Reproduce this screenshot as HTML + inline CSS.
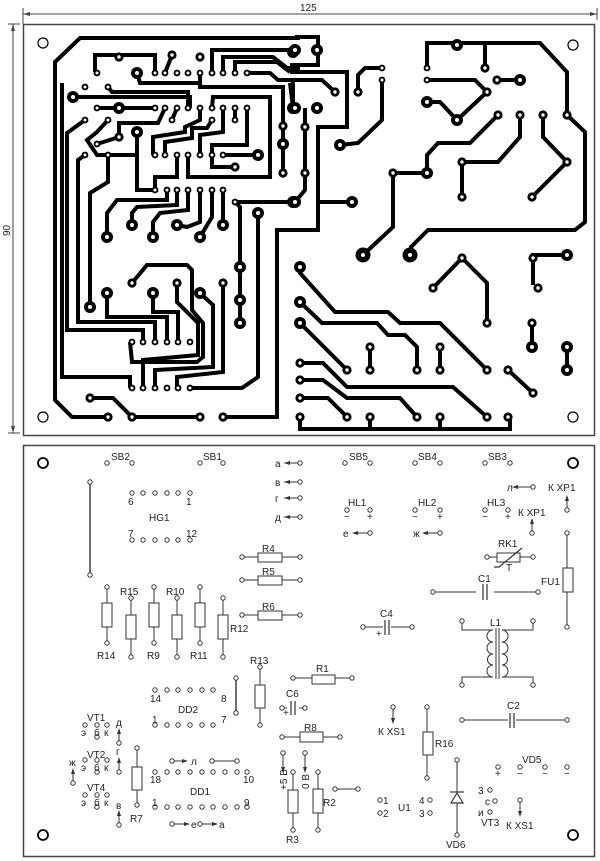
<!DOCTYPE html>
<html><head><meta charset="utf-8"><style>
html,body{margin:0;padding:0;background:#fff;}
svg{display:block;}
text{font-family:"Liberation Sans",sans-serif;font-size:10px;fill:#222;}
</style></head><body>
<svg width="600" height="861" viewBox="0 0 600 861" xmlns="http://www.w3.org/2000/svg">
<defs>
<g id="B"><circle r="6" fill="#000"/><circle r="2" fill="#fff"/></g>
<g id="M"><circle r="4.6" fill="#000"/><circle r="1.7" fill="#fff"/></g>
<g id="S"><circle r="3.4" fill="#000"/><circle r="1.5" fill="#fff"/></g>
<g id="p"><circle r="2.2" fill="#fff" stroke="#333" stroke-width="1"/></g>
</defs>
<g stroke="#444" stroke-width="1" fill="none">
<line x1="23" y1="14" x2="597" y2="14"/><line x1="23" y1="8" x2="23" y2="24"/><line x1="597" y1="8" x2="597" y2="20"/>
<line x1="13" y1="24" x2="13" y2="433"/><line x1="8" y1="24" x2="20" y2="24"/><line x1="8" y1="433" x2="20" y2="433"/>
</g>
<polygon points="23,14 30,12 30,16" fill="#444"/><polygon points="597,14 590,12 590,16" fill="#444"/>
<polygon points="13,24 11,31 15,31" fill="#444"/><polygon points="13,433 11,426 15,426" fill="#444"/>
<text x="300" y="11" font-size="10">125</text>
<text x="0" y="0" transform="translate(10,236) rotate(-90)">90</text>
<rect x="23.5" y="24.5" width="571" height="411" fill="none" stroke="#444" stroke-width="1.5"/>
<rect x="23.5" y="445.5" width="571" height="411" fill="none" stroke="#444" stroke-width="1.5"/>
<g stroke="#000" stroke-width="4" fill="none" stroke-linejoin="miter">
<polyline points="300,38 80,38 55,62 55,400 72,417 108,417"/>
<polyline points="95,72 95,55 155,55 155,73"/>
<polyline points="172,55 165,73"/>
<polyline points="212,73 212,50 293,50"/>
<polyline points="223,73 223,57 273,57 287,68 300,68"/>
<polyline points="235,73 235,62 277,62 290,72"/>
<polyline points="247,73 270,73 278,80 293,80 293,108"/>
<polyline points="137,73 140,83 200,83"/>
<polyline points="200,73 200,87 283,87 283,173"/>
<polyline points="108,87 112,92 188,92 188,108"/>
<polyline points="73,97 190,97 190,108"/>
<polyline points="62,83 62,377 130,377 130,388"/>
<polyline points="85,120 67,133 67,330 143,330 143,342"/>
<polyline points="85,155 78,160 78,322 155,322 155,342"/>
<polyline points="97,108 155,108"/>
<polyline points="108,120 97,132 87,140 97,155 137,155"/>
<polyline points="137,132 137,190 155,190"/>
<polyline points="108,155 108,182 90,193 90,307"/>
<polyline points="97,144 119,137 119,123 158,123 165,108"/>
<polyline points="177,108 172,120"/>
<polyline points="200,108 200,120 185,127 185,132 153,137 153,155"/>
<polyline points="212,120 207,128 192,128 192,138 165,142 165,155"/>
<polyline points="223,108 223,132 200,135 200,155"/>
<polyline points="235,108 235,120"/>
<polyline points="247,108 247,145 212,145 212,155"/>
<polyline points="223,155 258,155"/>
<polyline points="212,155 212,167 235,167"/>
<polyline points="177,155 177,177 155,177 155,190"/>
<polyline points="188,155 188,177 270,177 270,97 213,97 212,108"/>
<polyline points="167,190 167,200 117,200 107,213 107,237"/>
<polyline points="177,190 177,205 137,207 132,213 132,225"/>
<polyline points="188,190 188,210 160,213 153,222 153,237"/>
<polyline points="200,190 200,222 187,227 177,225"/>
<polyline points="212,190 212,217 200,237"/>
<polyline points="223,190 223,225"/>
<polyline points="235,202 300,202"/>
<polyline points="235,202 240,207 240,323"/>
<polyline points="258,213 258,377 242,388 190,388"/>
<polyline points="300,230 277,230 277,417 223,417"/>
<polyline points="132,283 147,265 187,265 192,270 192,310 203,323 203,357 197,362 132,362 130,342"/>
<polyline points="107,293 107,317 167,317 167,342"/>
<polyline points="153,293 153,312 178,312 178,342"/>
<polyline points="177,283 177,302 198,323 198,355 143,360 143,388"/>
<polyline points="200,293 213,305 213,367 155,370 155,388"/>
<polyline points="223,283 223,372 177,377 177,388"/>
<polyline points="90,398 113,398 132,417 200,417"/>
<polyline points="295,37 318,37 318,65 290,65"/>
<polyline points="290,72 347,72 347,127 318,127 318,230 290,230"/>
<polyline points="290,80 322,80 335,92"/>
<polyline points="382,68 365,68 358,75 358,92"/>
<polyline points="382,80 382,120 358,143 340,145"/>
<polyline points="305,108 305,190 295,202"/>
<polyline points="318,202 352,202"/>
<polyline points="290,83 293,108"/>
<polyline points="427,68 427,43 540,43 567,72 567,115 585,132 585,222 575,230 428,230 410,248"/>
<polyline points="485,43 485,68"/>
<polyline points="427,80 475,80 487,92"/>
<polyline points="427,102 440,102 457,120 487,92"/>
<polyline points="497,80 520,80"/>
<polyline points="498,115 470,143 438,143 427,155 427,173 393,173 393,227 363,255"/>
<polyline points="520,115 520,137 498,162 462,162 462,197"/>
<polyline points="543,115 543,137 567,162 532,197"/>
<polyline points="462,258 433,288"/>
<polyline points="462,258 487,283 487,323"/>
<polyline points="533,285 533,255 567,255"/>
<polyline points="532,323 532,347"/>
<polyline points="567,347 567,370"/>
<polyline points="370,347 370,370"/>
<polyline points="440,347 440,370"/>
<polyline points="300,267 300,273 335,312 388,312 400,323 440,323 487,370"/>
<polyline points="300,302 322,323 377,323 388,335 405,335 417,347 417,370"/>
<polyline points="300,323 347,370"/>
<polyline points="300,363 323,363 347,387 453,387 487,417"/>
<polyline points="300,380 323,380 347,398 400,398 417,417"/>
<polyline points="300,398 328,398 347,417"/>
<polyline points="508,370 533,393"/>
<polyline points="300,417 300,429 510,429 510,417"/>
<polyline points="370,417 370,429"/><polyline points="440,417 440,429"/>
</g>
<g>
<use href="#M" x="119" y="57"/><use href="#M" x="172" y="55"/><use href="#M" x="200" y="57"/><use href="#B" x="293" y="52"/>
<use href="#S" x="97" y="73"/><use href="#B" x="137" y="73"/>
<use href="#S" x="155" y="73"/><use href="#S" x="165" y="73"/><use href="#S" x="177" y="73"/><use href="#S" x="188" y="73"/><use href="#S" x="200" y="73"/><use href="#S" x="212" y="73"/><use href="#S" x="223" y="73"/><use href="#S" x="235" y="73"/><use href="#S" x="247" y="73"/>
<use href="#S" x="85" y="87"/><use href="#S" x="108" y="87"/><use href="#B" x="73" y="97"/>
<use href="#S" x="97" y="108"/><use href="#B" x="119" y="108"/>
<use href="#S" x="155" y="108"/><use href="#S" x="165" y="108"/><use href="#S" x="177" y="108"/><use href="#S" x="188" y="108"/><use href="#S" x="200" y="108"/><use href="#S" x="212" y="108"/><use href="#S" x="223" y="108"/><use href="#S" x="235" y="108"/><use href="#S" x="247" y="108"/>
<use href="#B" x="293" y="108"/>
<use href="#S" x="172" y="120"/><use href="#S" x="212" y="120"/><use href="#S" x="235" y="120"/>
<use href="#S" x="85" y="120"/><use href="#S" x="108" y="120"/>
<use href="#B" x="137" y="132"/><use href="#M" x="119" y="137"/><use href="#S" x="97" y="144"/>
<use href="#M" x="283" y="126"/><use href="#B" x="283" y="144"/><use href="#M" x="283" y="173"/>
<use href="#S" x="155" y="155"/><use href="#S" x="165" y="155"/><use href="#S" x="177" y="155"/><use href="#S" x="188" y="155"/><use href="#S" x="200" y="155"/><use href="#S" x="212" y="155"/><use href="#S" x="223" y="155"/>
<use href="#B" x="258" y="155"/><use href="#M" x="235" y="167"/>
<use href="#S" x="85" y="155"/><use href="#S" x="108" y="155"/>
<use href="#S" x="155" y="190"/><use href="#S" x="167" y="190"/><use href="#S" x="177" y="190"/><use href="#S" x="188" y="190"/><use href="#S" x="200" y="190"/><use href="#S" x="212" y="190"/><use href="#S" x="223" y="190"/>
<use href="#S" x="235" y="202"/><use href="#B" x="293" y="202"/><use href="#B" x="258" y="213"/>
<use href="#B" x="107" y="237"/><use href="#B" x="132" y="225"/><use href="#B" x="153" y="237"/><use href="#B" x="177" y="225"/><use href="#B" x="200" y="237"/><use href="#B" x="223" y="225"/>
<use href="#B" x="240" y="267"/><use href="#B" x="240" y="300"/><use href="#B" x="240" y="323"/>
<use href="#M" x="132" y="283"/><use href="#M" x="177" y="283"/><use href="#M" x="223" y="283"/>
<use href="#B" x="107" y="293"/><use href="#B" x="153" y="293"/><use href="#B" x="200" y="293"/><use href="#B" x="90" y="307"/>
<use href="#S" x="132" y="342"/><use href="#S" x="143" y="342"/><use href="#S" x="155" y="342"/><use href="#S" x="167" y="342"/><use href="#S" x="178" y="342"/><use href="#S" x="190" y="342"/>
<use href="#S" x="132" y="388"/><use href="#S" x="143" y="388"/><use href="#S" x="155" y="388"/><use href="#S" x="167" y="388"/><use href="#S" x="178" y="388"/><use href="#S" x="190" y="388"/>
<use href="#M" x="90" y="398"/><use href="#M" x="108" y="417"/><use href="#M" x="132" y="417"/><use href="#M" x="200" y="417"/><use href="#M" x="223" y="417"/>
<use href="#B" x="295" y="50"/><use href="#B" x="317" y="50"/>
<use href="#M" x="335" y="92"/><use href="#M" x="358" y="92"/><use href="#S" x="382" y="68"/><use href="#S" x="382" y="80"/>
<use href="#B" x="295" y="108"/><use href="#B" x="317" y="108"/>
<use href="#M" x="305" y="127"/><use href="#M" x="305" y="173"/><use href="#B" x="295" y="202"/><use href="#B" x="352" y="202"/><use href="#B" x="340" y="145"/>
<use href="#S" x="427" y="68"/><use href="#S" x="427" y="80"/><use href="#B" x="457" y="45"/><use href="#M" x="485" y="68"/><use href="#M" x="497" y="80"/><use href="#B" x="520" y="80"/><use href="#M" x="487" y="92"/><use href="#B" x="427" y="102"/><use href="#B" x="457" y="120"/>
<use href="#M" x="498" y="115"/><use href="#M" x="520" y="115"/><use href="#M" x="543" y="115"/><use href="#M" x="567" y="115"/>
<use href="#M" x="393" y="173"/><use href="#B" x="427" y="173"/><use href="#M" x="462" y="162"/><use href="#M" x="567" y="162"/><use href="#M" x="462" y="197"/><use href="#M" x="532" y="197"/>
<circle cx="363" cy="255" r="7.5"/><circle cx="363" cy="255" r="2" fill="#fff"/>
<circle cx="410" cy="255" r="7.5"/><circle cx="410" cy="255" r="2" fill="#fff"/>
<use href="#B" x="567" y="255"/><use href="#M" x="533" y="258"/><use href="#M" x="538" y="288"/><use href="#M" x="462" y="258"/><use href="#M" x="433" y="288"/><use href="#M" x="487" y="323"/>
<use href="#B" x="300" y="267"/><use href="#B" x="300" y="302"/><use href="#B" x="300" y="323"/><use href="#M" x="300" y="363"/><use href="#M" x="300" y="380"/><use href="#M" x="300" y="398"/><use href="#M" x="300" y="417"/>
<use href="#M" x="370" y="347"/><use href="#M" x="370" y="370"/><use href="#M" x="440" y="347"/><use href="#M" x="440" y="370"/>
<use href="#M" x="532" y="323"/><use href="#B" x="532" y="347"/><use href="#B" x="567" y="347"/><use href="#B" x="567" y="370"/>
<use href="#M" x="347" y="370"/><use href="#M" x="417" y="370"/><use href="#M" x="487" y="370"/><use href="#M" x="508" y="370"/><use href="#M" x="533" y="393"/>
<use href="#M" x="347" y="417"/><use href="#M" x="370" y="417"/><use href="#M" x="417" y="417"/><use href="#M" x="440" y="417"/><use href="#M" x="487" y="417"/><use href="#M" x="508" y="417"/>
</g>
<g fill="none" stroke="#000" stroke-width="1.2">
<circle cx="43" cy="43" r="5"/><circle cx="43" cy="417" r="5"/><circle cx="573" cy="45" r="5"/><circle cx="573" cy="417" r="5"/>
<circle cx="43" cy="463" r="5" stroke-width="1.8"/><circle cx="43" cy="835" r="5" stroke-width="1.8"/><circle cx="573" cy="463" r="5" stroke-width="1.8"/><circle cx="573" cy="835" r="5" stroke-width="1.8"/>
</g>
<g stroke="#333" stroke-width="1" fill="none">
<line x1="90" y1="482" x2="90" y2="575" stroke-width="1.4"/>
<line x1="284" y1="463" x2="300" y2="463"/><line x1="284" y1="482" x2="300" y2="482"/><line x1="284" y1="498" x2="300" y2="498"/><line x1="284" y1="517" x2="300" y2="517"/>
<line x1="242" y1="557" x2="300" y2="557"/><line x1="242" y1="580" x2="300" y2="580"/><line x1="242" y1="615" x2="300" y2="615"/>
<line x1="107" y1="587" x2="107" y2="643"/><line x1="154" y1="587" x2="154" y2="643"/><line x1="200" y1="587" x2="200" y2="643"/>
<line x1="131" y1="598" x2="131" y2="657"/><line x1="177" y1="598" x2="177" y2="657"/><line x1="223" y1="598" x2="223" y2="657"/>
<line x1="260" y1="667" x2="260" y2="725"/><line x1="236" y1="678" x2="236" y2="713" stroke-width="1.4"/>
<line x1="137" y1="748" x2="137" y2="805"/>
<line x1="212" y1="761" x2="237" y2="761"/><line x1="172" y1="761" x2="185" y2="761"/>
<line x1="172" y1="824" x2="188" y2="824"/><line x1="200" y1="824" x2="215" y2="824"/>
<line x1="119" y1="743" x2="119" y2="730"/><line x1="119" y1="772" x2="119" y2="759"/><line x1="73" y1="783" x2="73" y2="770"/><line x1="119" y1="825" x2="119" y2="812"/>
<line x1="293" y1="772" x2="293" y2="830"/><line x1="318" y1="772" x2="318" y2="830"/>
<line x1="283" y1="753" x2="283" y2="770"/><line x1="305" y1="753" x2="305" y2="770"/>
<line x1="293" y1="678" x2="352" y2="678"/>
<line x1="282" y1="708" x2="305" y2="708"/>
<line x1="282" y1="737" x2="340" y2="737"/>
<line x1="335" y1="789" x2="358" y2="789"/>
<line x1="358" y1="533" x2="370" y2="533"/><line x1="428" y1="533" x2="440" y2="533"/><line x1="518" y1="487" x2="533" y2="487"/>
<line x1="567" y1="510" x2="567" y2="497"/><line x1="532" y1="533" x2="532" y2="520"/>
<line x1="487" y1="557" x2="533" y2="557"/>
<line x1="567" y1="533" x2="567" y2="627"/>
<line x1="433" y1="592" x2="538" y2="592"/>
<line x1="363" y1="627" x2="412" y2="627"/>
<line x1="462" y1="720" x2="567" y2="720"/>
<line x1="393" y1="707" x2="393" y2="722"/>
<line x1="427" y1="707" x2="427" y2="778"/>
<line x1="457" y1="760" x2="457" y2="835"/>
<line x1="520" y1="800" x2="520" y2="815"/>
<polyline points="462,621 462,630 493,630"/><polyline points="533,621 533,630 502,630"/>
<polyline points="462,685 462,677 493,677"/><polyline points="533,685 533,677 502,677"/>
<path d="M493,630 a4,4 0 0 0 0,12 a4,4 0 0 0 0,12 a4,4 0 0 0 0,11 a4,4 0 0 0 0,12"/>
<path d="M502,630 a4,4 0 0 1 0,12 a4,4 0 0 1 0,12 a4,4 0 0 1 0,11 a4,4 0 0 1 0,12"/>
<line x1="496" y1="628" x2="496" y2="679"/><line x1="499" y1="628" x2="499" y2="679"/>
</g>
<g fill="#333">
<polygon points="284,463 290,461 290,465"/><polygon points="284,482 290,480 290,484"/><polygon points="284,498 290,496 290,500"/><polygon points="284,517 290,515 290,519"/>
<polygon points="119,728 117,734 121,734"/><polygon points="119,757 117,763 121,763"/><polygon points="73,768 71,774 75,774"/><polygon points="119,810 117,816 121,816"/>
<polygon points="188,761 182,759 182,763"/><polygon points="190,824 184,822 184,826"/><polygon points="218,824 212,822 212,826"/>
<polygon points="283,773 281,767 285,767"/><polygon points="305,773 303,767 307,767"/>
<polygon points="352,533 358,531 358,535"/><polygon points="422,533 428,531 428,535"/><polygon points="512,487 518,485 518,489"/>
<polygon points="567,495 565,501 569,501"/><polygon points="532,518 530,524 534,524"/>
<polygon points="393,724 391,718 395,718"/><polygon points="520,817 518,811 522,811"/>
</g>
<g fill="#fff" stroke="#333" stroke-width="1">
<rect x="258" y="553" width="24" height="9"/><rect x="258" y="576" width="24" height="9"/><rect x="258" y="611" width="24" height="9"/>
<rect x="102" y="603" width="10" height="24"/><rect x="149" y="603" width="10" height="24"/><rect x="195" y="603" width="10" height="24"/>
<rect x="126" y="615" width="10" height="24"/><rect x="172" y="615" width="10" height="24"/><rect x="218" y="615" width="10" height="24"/>
<rect x="255" y="685" width="10" height="23"/><rect x="132" y="767" width="10" height="23"/>
<rect x="288" y="790" width="10" height="23"/><rect x="313" y="789" width="10" height="24"/>
<rect x="312" y="675" width="23" height="9"/><rect x="300" y="732" width="23" height="10"/>
<rect x="423" y="732" width="10" height="23"/>
<rect x="497" y="553" width="23" height="9"/>
<rect x="563" y="568" width="10" height="24"/>
</g>
<g stroke="#333" stroke-width="1.2" fill="none">
<polyline points="494,567 499,567 522,548"/>
<rect x="476" y="590" width="18" height="4" fill="#fff" stroke="none"/>
<line x1="483" y1="584" x2="483" y2="600"/><line x1="487" y1="584" x2="487" y2="600"/>
<rect x="383" y="624" width="8" height="6" fill="#fff" stroke="none"/>
<line x1="385" y1="620" x2="385" y2="635"/><line x1="389" y1="620" x2="389" y2="635"/>
<rect x="508" y="717" width="8" height="6" fill="#fff" stroke="none"/>
<line x1="510" y1="713" x2="510" y2="728"/><line x1="514" y1="713" x2="514" y2="728"/>
<rect x="287" y="706" width="12" height="4" fill="#fff" stroke="none"/>
<line x1="291" y1="701" x2="291" y2="715"/><line x1="295" y1="701" x2="295" y2="715"/>
<polygon points="451,803 463,803 457,793" fill="#fff"/><line x1="450" y1="792" x2="464" y2="792"/>
</g>
<g>
<use href="#p" x="107" y="463"/><use href="#p" x="132" y="463"/><use href="#p" x="200" y="463"/><use href="#p" x="223" y="463"/>
<use href="#p" x="345" y="463"/><use href="#p" x="370" y="463"/><use href="#p" x="415" y="463"/><use href="#p" x="440" y="463"/><use href="#p" x="485" y="463"/><use href="#p" x="510" y="463"/>
<use href="#p" x="300" y="463"/><use href="#p" x="300" y="482"/><use href="#p" x="300" y="498"/><use href="#p" x="300" y="517"/>
<use href="#p" x="90" y="482"/><use href="#p" x="90" y="575"/>
<use href="#p" x="132" y="493"/><use href="#p" x="143" y="493"/><use href="#p" x="155" y="493"/><use href="#p" x="167" y="493"/><use href="#p" x="178" y="493"/><use href="#p" x="190" y="493"/>
<use href="#p" x="132" y="540"/><use href="#p" x="143" y="540"/><use href="#p" x="155" y="540"/><use href="#p" x="167" y="540"/><use href="#p" x="178" y="540"/><use href="#p" x="190" y="540"/>
<use href="#p" x="242" y="557"/><use href="#p" x="300" y="557"/><use href="#p" x="242" y="580"/><use href="#p" x="300" y="580"/><use href="#p" x="242" y="615"/><use href="#p" x="300" y="615"/>
<use href="#p" x="107" y="587"/><use href="#p" x="154" y="587"/><use href="#p" x="200" y="587"/><use href="#p" x="107" y="643"/><use href="#p" x="154" y="643"/><use href="#p" x="200" y="643"/>
<use href="#p" x="131" y="598"/><use href="#p" x="177" y="598"/><use href="#p" x="223" y="598"/><use href="#p" x="131" y="657"/><use href="#p" x="177" y="657"/><use href="#p" x="223" y="657"/>
<use href="#p" x="260" y="667"/><use href="#p" x="260" y="725"/><use href="#p" x="236" y="678"/><use href="#p" x="236" y="713"/>
<use href="#p" x="155" y="690"/><use href="#p" x="167" y="690"/><use href="#p" x="178" y="690"/><use href="#p" x="190" y="690"/><use href="#p" x="202" y="690"/><use href="#p" x="213" y="690"/>
<use href="#p" x="155" y="725"/><use href="#p" x="167" y="725"/><use href="#p" x="178" y="725"/><use href="#p" x="190" y="725"/><use href="#p" x="202" y="725"/><use href="#p" x="213" y="725"/>
<use href="#p" x="85" y="725"/><use href="#p" x="97" y="725"/><use href="#p" x="107" y="725"/><use href="#p" x="97" y="737"/>
<use href="#p" x="85" y="760"/><use href="#p" x="97" y="760"/><use href="#p" x="107" y="760"/><use href="#p" x="97" y="772"/>
<use href="#p" x="85" y="795"/><use href="#p" x="97" y="795"/><use href="#p" x="107" y="795"/><use href="#p" x="97" y="807"/>
<use href="#p" x="119" y="743"/><use href="#p" x="119" y="772"/><use href="#p" x="73" y="783"/><use href="#p" x="119" y="825"/>
<use href="#p" x="137" y="748"/><use href="#p" x="137" y="805"/>
<use href="#p" x="172" y="761"/><use href="#p" x="212" y="761"/><use href="#p" x="237" y="761"/>
<use href="#p" x="155" y="772"/><use href="#p" x="167" y="772"/><use href="#p" x="178" y="772"/><use href="#p" x="190" y="772"/><use href="#p" x="202" y="772"/><use href="#p" x="213" y="772"/><use href="#p" x="225" y="772"/><use href="#p" x="237" y="772"/><use href="#p" x="247" y="772"/>
<use href="#p" x="155" y="807"/><use href="#p" x="167" y="807"/><use href="#p" x="178" y="807"/><use href="#p" x="190" y="807"/><use href="#p" x="202" y="807"/><use href="#p" x="213" y="807"/><use href="#p" x="225" y="807"/><use href="#p" x="237" y="807"/><use href="#p" x="247" y="807"/>
<use href="#p" x="172" y="824"/><use href="#p" x="200" y="824"/>
<use href="#p" x="283" y="753"/><use href="#p" x="305" y="753"/><use href="#p" x="293" y="772"/><use href="#p" x="293" y="830"/><use href="#p" x="318" y="772"/><use href="#p" x="318" y="830"/>
<use href="#p" x="293" y="678"/><use href="#p" x="352" y="678"/><use href="#p" x="282" y="708"/><use href="#p" x="305" y="708"/><use href="#p" x="282" y="737"/><use href="#p" x="340" y="737"/>
<use href="#p" x="335" y="789"/><use href="#p" x="358" y="789"/>
<use href="#p" x="370" y="533"/><use href="#p" x="440" y="533"/><use href="#p" x="533" y="487"/><use href="#p" x="567" y="510"/><use href="#p" x="532" y="533"/>
<use href="#p" x="347" y="510"/><use href="#p" x="370" y="510"/><use href="#p" x="415" y="510"/><use href="#p" x="440" y="510"/><use href="#p" x="485" y="510"/><use href="#p" x="508" y="510"/>
<use href="#p" x="487" y="557"/><use href="#p" x="533" y="557"/><use href="#p" x="567" y="533"/><use href="#p" x="567" y="627"/>
<use href="#p" x="433" y="592"/><use href="#p" x="538" y="592"/><use href="#p" x="363" y="627"/><use href="#p" x="412" y="627"/>
<use href="#p" x="462" y="621"/><use href="#p" x="533" y="621"/><use href="#p" x="462" y="685"/><use href="#p" x="533" y="685"/>
<use href="#p" x="462" y="720"/><use href="#p" x="567" y="720"/><use href="#p" x="393" y="707"/><use href="#p" x="427" y="707"/><use href="#p" x="427" y="778"/>
<use href="#p" x="457" y="760"/><use href="#p" x="457" y="835"/>
<use href="#p" x="498" y="767"/><use href="#p" x="520" y="767"/><use href="#p" x="545" y="767"/><use href="#p" x="567" y="767"/>
<use href="#p" x="380" y="800"/><use href="#p" x="380" y="813"/><use href="#p" x="430" y="800"/><use href="#p" x="430" y="813"/>
<use href="#p" x="490" y="790"/><use href="#p" x="495" y="801"/><use href="#p" x="490" y="812"/><use href="#p" x="520" y="800"/>
</g>
<g>
<text x="111" y="460">SB2</text><text x="203" y="460">SB1</text><text x="349" y="460">SB5</text><text x="418" y="460">SB4</text><text x="488" y="460">SB3</text>
<text x="275" y="467">а</text><text x="275" y="486">в</text><text x="275" y="502">г</text><text x="275" y="521">д</text>
<text x="128" y="505">6</text><text x="186" y="505">1</text><text x="149" y="521">HG1</text><text x="128" y="537">7</text><text x="186" y="537">12</text>
<text x="262" y="552">R4</text><text x="262" y="575">R5</text><text x="262" y="610">R6</text>
<text x="120" y="595">R15</text><text x="166" y="595">R10</text><text x="97" y="659">R14</text><text x="147" y="659">R9</text><text x="190" y="659">R11</text><text x="230" y="632">R12</text>
<text x="250" y="664">R13</text>
<text x="150" y="702">14</text><text x="221" y="702">8</text><text x="178" y="713">DD2</text><text x="152" y="723">1</text><text x="221" y="723">7</text>
<text x="87" y="721">VT1</text><text x="87" y="758">VT2</text><text x="87" y="791">VT4</text>
<text x="81" y="736" font-size="8">э</text><text x="94" y="736" font-size="8">б</text><text x="104" y="736" font-size="8">к</text>
<text x="81" y="771" font-size="8">э</text><text x="94" y="771" font-size="8">б</text><text x="104" y="771" font-size="8">к</text>
<text x="81" y="806" font-size="8">э</text><text x="94" y="806" font-size="8">б</text><text x="104" y="806" font-size="8">к</text>
<text x="116" y="726" font-size="9">д</text><text x="116" y="755" font-size="9">г</text><text x="69" y="766" font-size="9">ж</text><text x="116" y="809" font-size="9">в</text>
<text x="130" y="822">R7</text>
<text x="191" y="765">л</text>
<text x="150" y="783">18</text><text x="243" y="783">10</text><text x="190" y="795">DD1</text><text x="152" y="806">1</text><text x="244" y="806">9</text>
<text x="191" y="828">е</text><text x="219" y="828">а</text>
<text x="0" y="0" transform="translate(287,790) rotate(-90)">+5 В</text>
<text x="0" y="0" transform="translate(309,789) rotate(-90)">0 В</text>
<text x="286" y="843">R3</text><text x="323" y="806">R2</text>
<text x="286" y="697">C6</text><text x="283" y="716" font-size="8">+</text>
<text x="316" y="672">R1</text><text x="304" y="731">R8</text>
<text x="348" y="506">HL1</text><text x="418" y="506">HL2</text><text x="487" y="506">HL3</text>
<text x="344" y="520">−</text><text x="367" y="520">+</text><text x="412" y="520">−</text><text x="437" y="520">+</text><text x="482" y="520">−</text><text x="505" y="520">+</text>
<text x="343" y="537">е</text><text x="413" y="537">ж</text><text x="507" y="491">л</text>
<text x="548" y="491">К ХР1</text><text x="518" y="516">К ХР1</text>
<text x="498" y="547">RK1</text><text x="506" y="571" font-size="8">T</text>
<text x="478" y="582">C1</text><text x="541" y="585">FU1</text>
<text x="380" y="617">C4</text><text x="376" y="637" font-size="8">+</text>
<text x="490" y="626">L1</text><text x="507" y="709">C2</text>
<text x="378" y="735">К XS1</text><text x="435" y="747">R16</text>
<text x="522" y="763">VD5</text>
<text x="495" y="777" font-size="8">+</text><text x="517" y="777" font-size="8">~</text><text x="542" y="777" font-size="8">~</text><text x="564" y="777" font-size="8">−</text>
<text x="383" y="804">1</text><text x="383" y="817">2</text><text x="398" y="811">U1</text><text x="419" y="804">4</text><text x="419" y="817">3</text>
<text x="446" y="848">VD6</text>
<text x="478" y="794" font-size="9">3</text><text x="485" y="805" font-size="9">с</text><text x="478" y="816" font-size="9">и</text>
<text x="481" y="826">VT3</text><text x="506" y="829">К XS1</text>
</g>
</svg>
</body></html>
